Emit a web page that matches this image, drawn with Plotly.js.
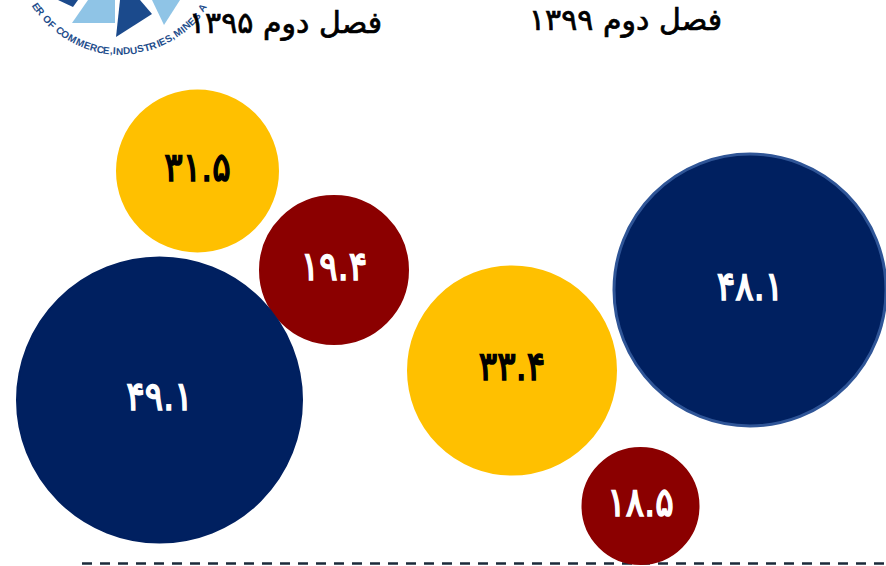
<!DOCTYPE html>
<html><head><meta charset="utf-8">
<script src="https://cdn.plot.ly/plotly-3.0.1.min.js"></script>
<style>html,body{margin:0;padding:0;background:#fff;overflow:hidden}</style></head>
<body><div id="chart" style="width:886px;height:566px"></div>
<script>
const labels = ['۳۱.۵','۱۹.۴','۴۹.۱','۳۳.۴','۱۸.۵','۴۸.۱'];
const bubbleX = [197.5,334,159.5,512,640.5,750];
const bubbleY = [171,270,400,370.5,506,290];
const bubbleD = [161,148,285,208,116,272];
const bubbleColors = ['#FFC000','#8B0000','#002060','#FFC000','#8B0000','#002060'];
const bubbleLine = ['#FFC000','#8B0000','#002060','#FFC000','#8B0000','#2F5597'];
const bubbleLineW = [2,2,2,2,2,3];
const labelColors = ['#000','#fff','#fff','#000','#fff','#fff'];
const titles = ['فصل دوم ۱۳۹۵','فصل دوم ۱۳۹۹'];
const titleX = [285,625];
const titleY = [23,20];
const sealText = 'ER OF COMMERCE,INDUSTRIES,MINES A';

const FONT = 'DejaVu Sans';
const annotations = [];
// seal lettering along an arc
const cx=120, cy=-50, R=101, a0=146, a1=35;
const adv = c => ({' ':.55,',':.45,'I':.5,'M':1.3,'E':.95,'F':.9}[c]||1);
const chars=[...sealText], weights=chars.map(adv);
const total=weights.reduce((s,w)=>s+w,0)-(weights[0]+weights[weights.length-1])/2;
let run=0;
chars.forEach((c,i)=>{
  if(i>0) run+=(weights[i-1]+weights[i])/2;
  const deg=a0+(a1-a0)*run/total, a=deg*Math.PI/180;
  annotations.push({text:c,x:cx+R*Math.cos(a),y:cy+R*Math.sin(a),xref:'x',yref:'y',showarrow:false,
    textangle:deg-90,font:{family:'Liberation Sans',size:10,color:'#1F4E8C',weight:700}});
});
titles.forEach((t,i)=>annotations.push({text:t,x:titleX[i],y:titleY[i],xref:'x',yref:'y',showarrow:false,
  font:{family:FONT,size:30,color:'#000'}}));
const data=[
 {type:'scatter',mode:'lines',x:[82,886],y:[563.5,563.5],line:{color:'#1B2A3A',width:2.5,dash:'10px 8px'},hoverinfo:'skip'},
 {type:'scatter',mode:'markers+text',x:bubbleX,y:bubbleY,text:labels,textposition:'middle center',
  textfont:{family:FONT,size:40,color:labelColors},
  marker:{size:bubbleD,sizemode:'diameter',color:bubbleColors,opacity:1,line:{color:bubbleLine,width:bubbleLineW}},hoverinfo:'skip'}
];
const shapes=[
 {type:'path',path:'M58,0 L78,0 L73,7 Z',fillcolor:'#1B4A8C',line:{width:0},layer:'below'},
 {type:'path',path:'M88,0 L115,0 L115,23 L72,23 Z',fillcolor:'#8FC4E6',line:{width:0},layer:'below'},
 {type:'path',path:'M120,0 L140,0 L152,14 L116,37 Z',fillcolor:'#1B4A8C',line:{width:0},layer:'below'},
 {type:'path',path:'M152,0 L180,0 L164,25 Z',fillcolor:'#8FC4E6',line:{width:0},layer:'below'}
];
Plotly.newPlot('chart',data,{
 width:886,height:566,margin:{l:0,r:0,t:0,b:0},showlegend:false,
 paper_bgcolor:'#fff',plot_bgcolor:'#fff',
 xaxis:{range:[0,886],visible:false,fixedrange:true},
 yaxis:{range:[566,0],visible:false,fixedrange:true},
 annotations,shapes
},{displayModeBar:false,staticPlot:true}).then(gd=>{
  // thicken and narrow the only available Persian face to match the reference's heavy type
  gd.querySelectorAll('.textpoint text').forEach(t=>{
    t.style.stroke=t.style.fill;t.style.strokeWidth='1.6px';
    const x=parseFloat(t.getAttribute('x'))||0;
    t.setAttribute('transform',`translate(${x},0) scale(0.86,1) translate(${-x},0)`);
  });
  gd.querySelectorAll('.annotation-text').forEach(t=>{
    if(t.textContent.length>3){t.style.stroke='#000';t.style.strokeWidth='0.7px';}
  });
});
</script></body></html>
